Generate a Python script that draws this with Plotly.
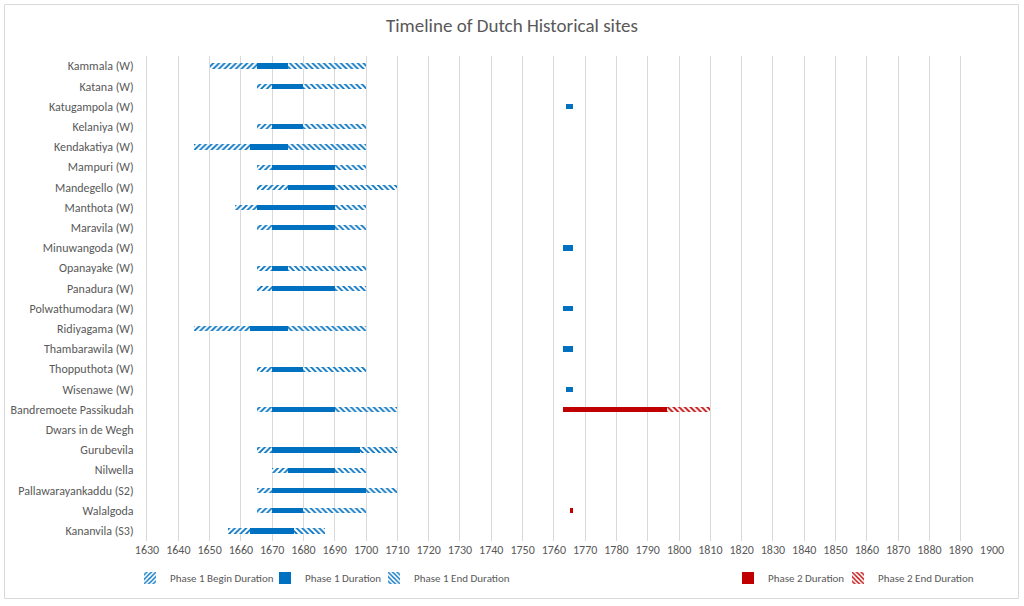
import plotly.graph_objects as go

sites = ["Kammala (W)", "Katana (W)", "Katugampola (W)", "Kelaniya (W)", "Kendakatiya (W)",
         "Mampuri (W)", "Mandegello (W)", "Manthota (W)", "Maravila (W)", "Minuwangoda (W)",
         "Opanayake (W)", "Panadura (W)", "Polwathumodara (W)", "Ridiyagama (W)",
         "Thambarawila (W)", "Thopputhota (W)", "Wisenawe (W)", "Bandremoete Passikudah",
         "Dwars in de Wegh", "Gurubevila", "Nilwella", "Pallawarayankaddu (S2)",
         "Walalgoda", "Kananvila (S3)"]

start = [1650, 1665, 1764, 1665, 1645, 1665, 1665, 1658, 1665, 1763, 1665, 1665, 1763, 1645,
         1763, 1665, 1764, 1665, 0, 1665, 1670, 1665, 1665, 1656]
p1_begin = [15, 5, 0, 5, 18, 5, 10, 7, 5, 0, 5, 5, 0, 18, 0, 5, 0, 5, 0, 5, 5, 5, 5, 7]
p1_dur = [10, 10, 2, 10, 12, 20, 15, 25, 20, 3, 5, 20, 3, 12, 3, 10, 2, 20, 0, 28, 15, 30, 10, 14]
p1_end = [25, 20, 0, 20, 25, 10, 20, 10, 10, 0, 25, 10, 0, 25, 0, 20, 0, 20, 0, 12, 10, 10, 20, 10]
gap = [0, 0, 0, 0, 0, 0, 0, 0, 0, 0, 0, 0, 0, 0, 0, 0, 0, 53, 0, 0, 0, 0, 65, 0]
p2_dur = [0, 0, 0, 0, 0, 0, 0, 0, 0, 0, 0, 0, 0, 0, 0, 0, 0, 33, 0, 0, 0, 0, 1, 0]
p2_end = [0, 0, 0, 0, 0, 0, 0, 0, 0, 0, 0, 0, 0, 0, 0, 0, 0, 14, 0, 0, 0, 0, 0, 0]

x_ticks = list(range(1630, 1901, 10))

BLUE = "#0070C0"
RED = "#C00000"
FONT = "Calibri, Carlito, Lato, Roboto, 'Liberation Sans', sans-serif"
GREY = "#595959"

fig = go.Figure()
common = dict(y=sites, orientation="h", width=0.26)
noline = dict(width=0)

def hatch(shape, col):
    return dict(shape=shape, fgcolor=col, bgcolor="white", size=4, solidity=0.45,
                fillmode="replace")

fig.add_trace(go.Bar(x=start, name="Start", marker=dict(color="rgba(0,0,0,0)", line=noline),
                     showlegend=False, hoverinfo="skip", **common))
fig.add_trace(go.Bar(x=p1_begin, name="Phase 1 Begin Duration", legend="legend",
                     marker=dict(color="white", line=noline, pattern=hatch("/", BLUE)), **common))
fig.add_trace(go.Bar(x=p1_dur, name="Phase 1 Duration", legend="legend2",
                     marker=dict(color=BLUE, line=noline), **common))
fig.add_trace(go.Bar(x=p1_end, name="Phase 1 End Duration", legend="legend3",
                     marker=dict(color="white", line=noline, pattern=hatch("\\", BLUE)), **common))
fig.add_trace(go.Bar(x=gap, name="Gap", marker=dict(color="rgba(0,0,0,0)", line=noline),
                     showlegend=False, hoverinfo="skip", **common))
fig.add_trace(go.Bar(x=p2_dur, name="Phase 2 Duration", legend="legend4",
                     marker=dict(color=RED, line=noline), **common))
fig.add_trace(go.Bar(x=p2_end, name="Phase 2 End Duration", legend="legend5",
                     marker=dict(color="white", line=noline, pattern=hatch("\\", RED)), **common))

L, R, T, B = 147, 32, 56, 65
W, H = 1024, 606
pw, ph = W - L - R, H - T - B

def px_x(p):
    return (p - L) / pw

def px_y(p):
    return (H - B - p) / ph

def leg(text_x):
    return dict(orientation="h", x=px_x(text_x - 40), y=px_y(578), xanchor="left",
                yanchor="middle", font=dict(size=11, color=GREY), itemwidth=30,
                bgcolor="rgba(0,0,0,0)")

fig.update_layout(
    width=W, height=H,
    margin=dict(l=L, r=R, t=T, b=B, autoexpand=False),
    barmode="stack",
    plot_bgcolor="white", paper_bgcolor="white",
    font=dict(family=FONT, size=12, color=GREY),
    title=dict(text="Timeline of Dutch Historical sites", x=0.5, xanchor="center",
               y=1 - 25 / H, yanchor="middle", font=dict(size=19, color=GREY, family=FONT)),
    xaxis=dict(range=[1630, 1900], tickvals=x_ticks, ticktext=[str(t) for t in x_ticks],
               showgrid=True, gridcolor="#d9d9d9", gridwidth=1, zeroline=False,
               showline=False, ticks="", tickfont=dict(size=12, color=GREY)),
    yaxis=dict(categoryorder="array", categoryarray=sites, autorange=False,
               range=[23.5, -0.5], showgrid=False, showline=True, linecolor="#d9d9d9",
               ticks="", ticklabelstandoff=10, tickfont=dict(size=12, color=GREY)),
    legend=leg(170),
    legend2=leg(305),
    legend3=leg(414),
    legend4=leg(768),
    legend5=leg(878),
    shapes=[dict(type="rect", xref="paper", yref="paper",
                 x0=px_x(4.5), x1=px_x(1018.5), y0=px_y(598.5), y1=px_y(4.5),
                 line=dict(color="#d9d9d9", width=1), fillcolor="rgba(0,0,0,0)", layer="below")],
    showlegend=True,
)

fig.write_html("out.html", config={"displayModeBar": False},
               post_script="document.body.style.margin='0';")
